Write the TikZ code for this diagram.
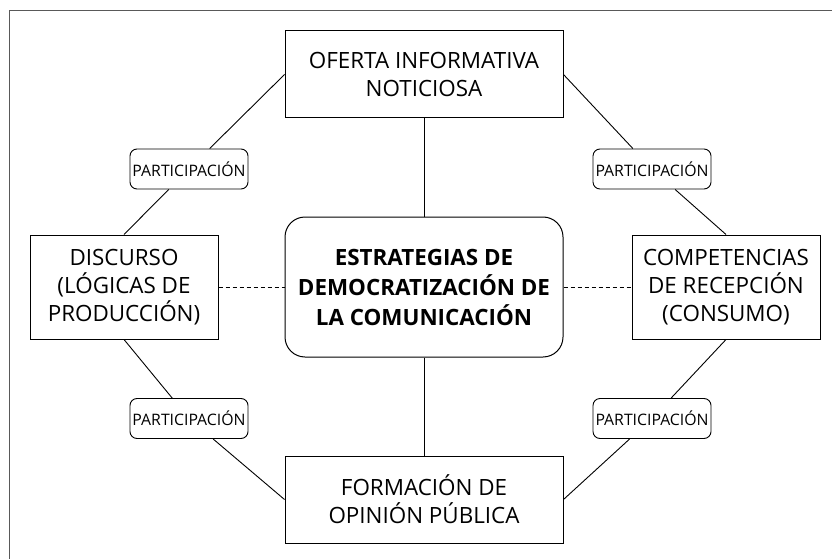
\documentclass[tikz,border=0pt]{standalone}
\usepackage{fontspec}
\setmainfont{Open Sans}
\usetikzlibrary{positioning}

\begin{document}
\begin{tikzpicture}[x=1pt,y=-1pt,
    caja/.style={draw, line width=1pt, align=center, inner sep=0pt,
      minimum width=278pt, minimum height=87pt,
      font=\fontsize{22.4}{28}\selectfont},
    lado/.style={caja, minimum width=188pt, minimum height=104pt},
    centro/.style={caja, rounded corners=20pt, minimum height=140pt,
      font=\fontsize{22.4}{30}\selectfont\bfseries},
    part/.style={draw, line width=0.9pt, rounded corners=7pt, fill=white,
      inner sep=0pt, minimum width=118pt, minimum height=40pt,
      font=\fontsize{15.8}{18}\selectfont},
    linea/.style={line width=0.9pt}]

    \useasboundingbox (0,0) rectangle (832,559);
    \draw[black!65, line width=1pt] (9,559) -- (9,11) -- (832,11);

    \node[caja] (oferta) at (424,74.5) {OFERTA INFORMATIVA\\NOTICIOSA};
    \node[centro] (estrategias) at (424,287) {ESTRATEGIAS DE\\DEMOCRATIZACIÓN DE\\LA COMUNICACIÓN};
    \node[caja] (formacion) at (424,499.5) {FORMACIÓN DE\\OPINIÓN PÚBLICA};
    \node[lado] (discurso) at (124,287) {DISCURSO\\(LÓGICAS DE\\PRODUCCIÓN)};
    \node[lado] (competencias) at (726,287) {COMPETENCIAS\\DE RECEPCIÓN\\(CONSUMO)};

    \node[part] (partA) at (189,169) {PARTICIPACIÓN};
    \node[part] (partB) at (652,169) {PARTICIPACIÓN};
    \node[part] (partC) at (189,418.5) {PARTICIPACIÓN};
    \node[part] (partD) at (652,418.5) {PARTICIPACIÓN};

    % conexiones
    \draw[linea] (oferta.west) -- (partA) -- (discurso.north);
    \draw[linea] (oferta.east) -- (partB) -- (competencias.north);
    \draw[linea] (discurso.south) -- (partC) -- (formacion.west);
    \draw[linea] (competencias.south) -- (partD) -- (formacion.east);
    \draw[linea] (oferta) -- (estrategias);
    \draw[linea] (estrategias) -- (formacion);
    \draw[linea, dash pattern=on 4pt off 3pt] (discurso) -- (estrategias);
    \draw[linea, dash pattern=on 4pt off 3pt] (estrategias) -- (competencias);

\end{tikzpicture}
\end{document}
